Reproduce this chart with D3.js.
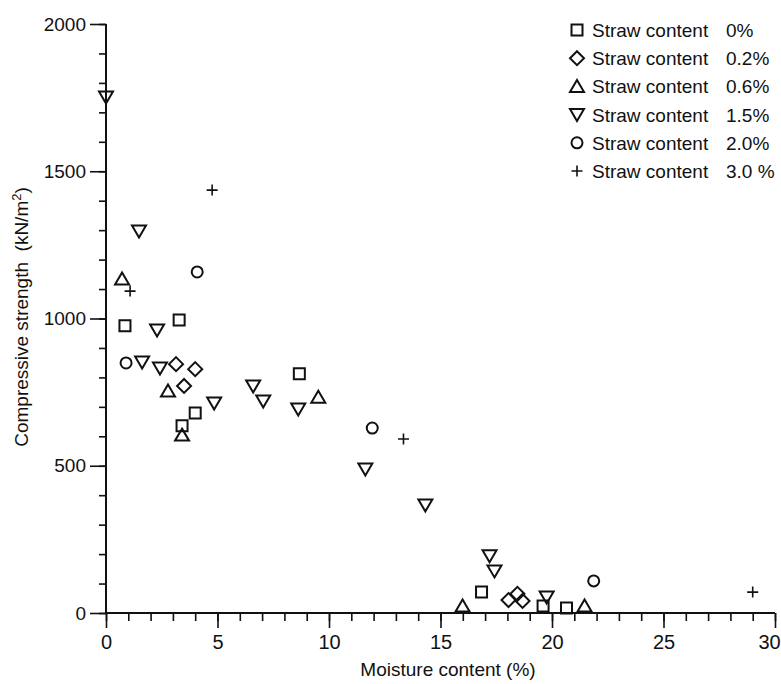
<!DOCTYPE html>
<html><head><meta charset="utf-8">
<script src="https://cdn.jsdelivr.net/npm/d3@7"></script>
<style>
body{margin:0;background:#fff;}
text{font-family:"Liberation Sans",Arial,Helvetica,sans-serif;fill:#111;}
</style></head>
<body><svg id="c" width="781" height="684"></svg>
<script>
// Data (moisture %, compressive strength kN/m2)
const seriesNames = ["0%", "0.2%", "0.6%", "1.5%", "2.0%", "3.0 %"];
const seriesShapes = ["square", "diamond", "triUp", "triDown", "circle", "plus"];
const s0x = [0.85, 3.28, 8.67, 4.0, 3.41, 16.84, 19.6, 20.65];
const s0y = [975, 995, 812, 679, 636, 71, 24, 17];
const s1x = [3.14, 4.0, 3.5, 18.05, 18.45, 18.68];
const s1y = [845, 828, 771, 44, 65, 41];
const s2x = [0.72, 2.78, 3.41, 9.52, 15.99, 21.46];
const s2y = [1134, 754, 604, 733, 24, 24];
const s3x = [0.0, 1.48, 2.29, 1.62, 2.42, 4.85, 6.6, 7.05, 8.62, 11.63, 14.32, 17.2, 17.42, 19.76];
const s3y = [1752, 1297, 961, 852, 832, 713, 771, 720, 693, 489, 367, 194, 143, 54];
const s4x = [4.09, 0.9, 11.94, 21.87];
const s4y = [1158, 849, 628, 109];
const s5x = [4.76, 1.08, 13.34, 29.0];
const s5y = [1436, 1093, 591, 71];
const xTicks = [0, 5, 10, 15, 20, 25, 30];
const yTicks = [0, 500, 1000, 1500, 2000];

const seriesX = [s0x, s1x, s2x, s3x, s4x, s5x];
const seriesY = [s0y, s1y, s2y, s3y, s4y, s5y];

const svg = d3.select("#c");
const x = d3.scaleLinear().domain([0, 30]).range([106, 775]);
const y = d3.scaleLinear().domain([0, 2000]).range([613, 24]);

function shapePath(kind) {
  switch (kind) {
    case "square": return "M-5.5,-5.5H5.5V5.5H-5.5Z";
    case "diamond": return "M0,-7L7,0L0,7L-7,0Z";
    case "triUp": return "M0,-6.5L7,5.5L-7,5.5Z";
    case "triDown": return "M0,6.5L7,-5.5L-7,-5.5Z";
    case "circle": return "M5.5,0A5.5,5.5 0 1,1 -5.5,0A5.5,5.5 0 1,1 5.5,0Z";
    case "plus": return "M-5.5,0H5.5M0,-5.5V5.5";
  }
}

// axes
const gx = svg.append("g").attr("transform", `translate(0,${y(0)})`);
gx.call(d3.axisBottom(x).tickValues(d3.range(0, 31, 1)).tickSize(8).tickFormat(""));
gx.call(g => g.select(".domain").remove());
gx.append("g").call(d3.axisBottom(x).tickValues(xTicks).tickSize(15).tickFormat(d3.format("d")))
  .call(g => g.select(".domain").remove())
  .call(g => g.selectAll("text").attr("y", 22).attr("font-size", 20).attr("font-family", "Liberation Sans, Arial, sans-serif").attr("fill", "#111")
    .attr("dx", d => d === 30 ? -6 : 0));
gx.selectAll("line").attr("stroke", "#111").attr("stroke-width", 1.6);

const gy = svg.append("g").attr("transform", `translate(${x(0)},0)`);
gy.call(d3.axisLeft(y).tickValues(d3.range(0, 2001, 100)).tickSize(7).tickFormat(""));
gy.call(g => g.select(".domain").remove());
gy.append("g").call(d3.axisLeft(y).tickValues(yTicks).tickSize(16).tickFormat(d3.format("d")))
  .call(g => g.select(".domain").remove())
  .call(g => g.selectAll("text").attr("x", -20).attr("font-size", 19).attr("font-family", "Liberation Sans, Arial, sans-serif").attr("fill", "#111"));
gy.selectAll("line").attr("stroke", "#111").attr("stroke-width", 1.6);

// axis lines
svg.append("line").attr("x1", x(0)).attr("x2", x(30)).attr("y1", y(0)).attr("y2", y(0)).attr("stroke", "#111").attr("stroke-width", 2);
svg.append("line").attr("x1", x(0)).attr("x2", x(0)).attr("y1", y(0)).attr("y2", y(2000)).attr("stroke", "#111").attr("stroke-width", 2);

// titles
svg.append("text").attr("x", 448).attr("y", 676).attr("text-anchor", "middle").attr("font-size", 19).text("Moisture content (%)");
const yt = svg.append("text").attr("transform", "translate(28,317) rotate(-90)").attr("text-anchor", "middle").attr("font-size", 19);
yt.append("tspan").text("Compressive strength\u00a0 (kN/m");
yt.append("tspan").attr("dy", -7).attr("font-size", 13).text("2");
yt.append("tspan").attr("dy", 7).text(")");

// points
seriesX.forEach((xs, i) => {
  const pts = xs.map((v, j) => [v, seriesY[i][j]]);
  svg.append("g").selectAll("path").data(pts).join("path")
    .attr("transform", d => `translate(${x(d[0])},${y(d[1])})`)
    .attr("d", shapePath(seriesShapes[i]))
    .attr("fill", "none").attr("stroke", "#111")
    .attr("stroke-width", seriesShapes[i] === "plus" ? 1.6 : 2);
});

// legend
const lg = svg.append("g");
seriesNames.forEach((n, i) => {
  const cy = 30 + i * 28.2;
  lg.append("path").attr("transform", `translate(577,${cy})`).attr("d", shapePath(seriesShapes[i]))
    .attr("fill", "none").attr("stroke", "#111").attr("stroke-width", seriesShapes[i] === "plus" ? 1.6 : 2);
  lg.append("text").attr("x", 592).attr("y", cy + 7).attr("font-size", 19).text("Straw content");
  lg.append("text").attr("x", 726).attr("y", cy + 7).attr("font-size", 19).text(n);
});
</script></body></html>
